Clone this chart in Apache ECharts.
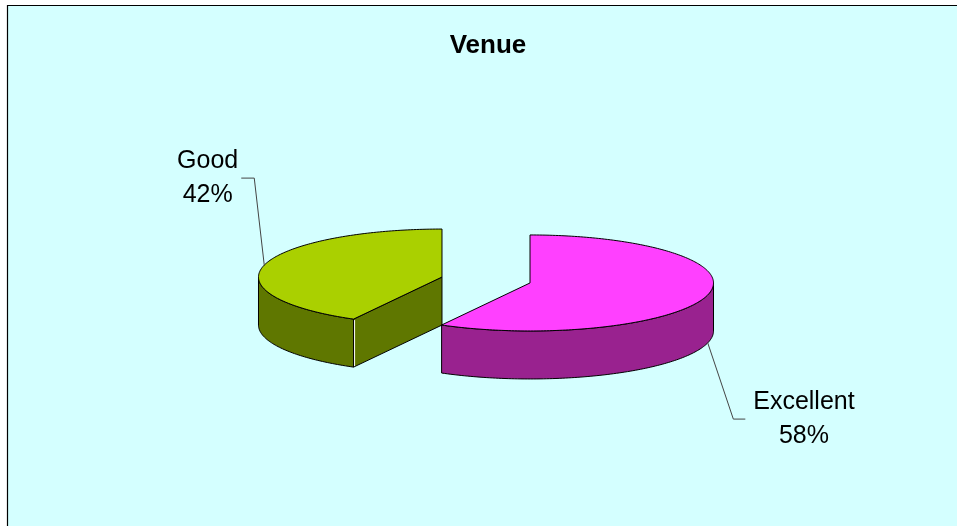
<!DOCTYPE html>
<html><head><meta charset="utf-8">
<script src="https://cdn.jsdelivr.net/npm/echarts@6/dist/echarts.min.js"></script>
<style>html,body{margin:0;padding:0;background:#fff}#c{width:957px;height:526px}</style>
</head><body><div id="c"></div>
<script>
// ---- data ----
const chartTitle = 'Venue';
const categories = ['Excellent', 'Good'];
const values = [58, 42];

// ---- styles / layout (not data) ----
const topColors = ['#FF40FF', '#AAD000'];
const sideColors = ['#99228F', '#5F7700'];
const bgColor = '#D4FFFF';
const layout = { cx: 486, cy: 280, rx: 183.5, ry: 48, depth: 48, explode: 0.2476 };
const labelLayout = [
  { elbow: [25.6, 76.2], tail: 12, text: [58.6, 0] },
  { elbow: [-10, -87], tail: -13, text: [-33.6, 0] }
];
const FONT = '"Liberation Sans", Arial, sans-serif';

function renderItem(params, api) {
  const i = params.dataIndex;
  const total = values.reduce((a, b) => a + b, 0);
  let start = 0;
  for (let k = 0; k < i; k++) start += values[k];
  const v = api.value(0);
  const a0 = start / total * 2 * Math.PI;
  const a1 = (start + v) / total * 2 * Math.PI;
  const mid = (a0 + a1) / 2;
  const { cx, cy, rx, ry, depth, explode } = layout;
  const c = [cx + explode * rx * Math.sin(mid), cy - explode * ry * Math.cos(mid)];
  const P = (t, dz) => [c[0] + rx * Math.sin(t), c[1] - ry * Math.cos(t) + (dz || 0)];
  const arc = (t0, t1, dz) => {
    const n = Math.max(2, Math.ceil(Math.abs(t1 - t0) / (Math.PI / 180)));
    const pts = [];
    for (let k = 0; k <= n; k++) pts.push(P(t0 + (t1 - t0) * k / n, dz));
    return pts;
  };
  const children = [];
  const zBase = Math.round(c[1] * 10);
  let zk = 0;
  const add = (el) => { el.z2 = zBase + (zk++); children.push(el); };
  const edge = { stroke: '#000', lineWidth: 1, lineJoin: 'round' };

  // curved outer side (front half only)
  const s0 = Math.max(a0, Math.PI / 2), s1 = Math.min(a1, 3 * Math.PI / 2);
  if (s1 > s0) {
    add({ type: 'polygon', shape: { points: arc(s0, s1, 0).concat(arc(s1, s0, depth)) },
          style: Object.assign({ fill: sideColors[i] }, edge) });
  }
  // radial cut faces that face the viewer
  [[a0, a0 - Math.PI / 2], [a1, a1 + Math.PI / 2]].forEach(([t, phi]) => {
    if (Math.cos(phi) < -1e-6) {
      const e = P(t);
      add({ type: 'polygon', shape: { points: [c, e, [e[0], e[1] + depth], [c[0], c[1] + depth]] },
            style: Object.assign({ fill: sideColors[i] }, edge) });
      add({ type: 'line', shape: { x1: e[0] + 1, y1: e[1] + 1, x2: e[0] + 1, y2: e[1] + depth - 1 },
            style: { stroke: '#ffffff', lineWidth: 1 } });
    }
  });
  // top face
  add({ type: 'polygon', shape: { points: [c].concat(arc(a0, a1, 0)) },
        style: Object.assign({ fill: topColors[i] }, edge) });

  // leader line + label
  const front = Math.cos(mid) < 0;
  const anchor = P(mid, front ? depth : 0);
  const L = labelLayout[i];
  const elbow = [anchor[0] + L.elbow[0], anchor[1] + L.elbow[1]];
  const end = [elbow[0] + L.tail, elbow[1]];
  children.push({ type: 'polyline', z2: 5000, shape: { points: [anchor, elbow, end] },
                  style: { stroke: '#444', lineWidth: 1, fill: null } });
  children.push({ type: 'text', z2: 5001, x: end[0] + L.text[0], y: end[1] + L.text[1],
    style: { text: categories[i] + '\n' + Math.round(v / total * 100) + '%',
             font: '25px ' + FONT, fill: '#000', align: 'center', verticalAlign: 'middle', lineHeight: 34 } });
  return { type: 'group', children };
}

const chart = echarts.init(document.getElementById('c'), null, { renderer: 'canvas' });
chart.setOption({
  backgroundColor: '#ffffff',
  animation: false,
  title: {
    text: chartTitle, left: 483, top: 28, textAlign: 'center',
    textStyle: { fontFamily: FONT, fontSize: 26, fontWeight: 'bold', color: '#000' }
  },
  graphic: [{
    type: 'rect', z: -10, silent: true,
    shape: { x: 7.5, y: 5.5, width: 970, height: 540 },
    style: { fill: bgColor, stroke: '#000', lineWidth: 1.2 }
  }],
  series: [{
    type: 'custom',
    coordinateSystem: 'none',
    renderItem: renderItem,
    data: values.map((v, i) => ({ name: categories[i], value: [v] }))
  }]
});
</script>
</body></html>
